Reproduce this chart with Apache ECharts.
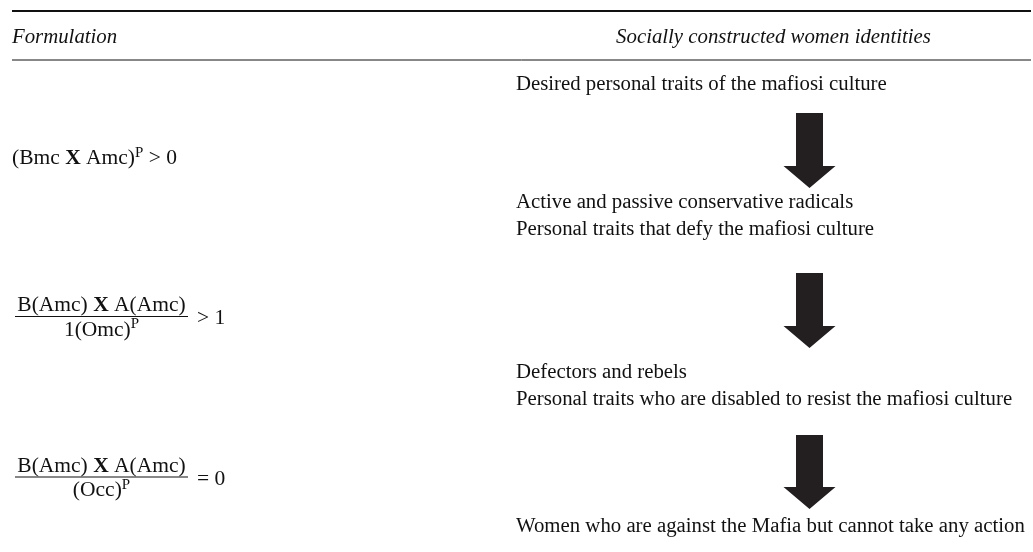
<!DOCTYPE html>
<html>
<head>
<meta charset="UTF-8">
<title>Formulation and socially constructed women identities</title>
<script src="https://cdn.jsdelivr.net/npm/echarts@6/dist/echarts.min.js"></script>
<style>
    html, body { margin: 0; padding: 0; background: #fff; }
    #chart { width: 1033px; height: 552px; }
</style>
</head>
<body>
<div id="chart"></div>
<script>
// table content
const headers = ['Formulation', 'Socially constructed women identities'];
const identities = [
    'Desired personal traits of the mafiosi culture',
    'Active and passive conservative radicals',
    'Personal traits that defy the mafiosi culture',
    'Defectors and rebels',
    'Personal traits who are disabled to resist the mafiosi culture',
    'Women who are against the Mafia but cannot take any action'
];
const identityRows = [84.5, 202.5, 229.5, 372.5, 399.5, 526.5];
// arrows go from the bottom of one identity block to the next
const arrowFrom = [113, 273, 435];
const arrowTo = [188, 348, 509];
// formulas: numerator / denominator / relation ({b|} bold, {sup|} superscript)
const formulaNum = ['(Bmc {b|X} Amc){sup|P}', 'B(Amc) {b|X} A(Amc)', 'B(Amc) {b|X} A(Amc)'];
const formulaDen = ['', '1(Omc){sup|P}', '(Occ){sup|P}'];
const formulaRel = ['> 0', '> 1', '= 0'];
const formulaRows = [158.5, 318.5, 479];

const FONT = '"Liberation Serif", "Times New Roman", serif';
const FS = 20.8;
const FFS = 21.5;
const INK = '#111';
const leftX = 12, rightX = 1031, identX = 516, arrowX = 809.5;
const fracX = 15, fracW = 173, relX = 197;

const rich = {
    b: { fontFamily: FONT, fontSize: FFS, fontWeight: 'bold', fill: INK, lineHeight: 26 },
    sup: { fontFamily: FONT, fontSize: 15, verticalAlign: 'top', lineHeight: 16, fill: INK }
};

function txt(x, y, text, extra) {
    return {
        type: 'text',
        x: x, y: y,
        style: Object.assign({
            text: text,
            fontFamily: FONT,
            fontSize: FS,
            lineHeight: 26,
            fill: INK,
            align: 'left',
            verticalAlign: 'middle',
            rich: rich
        }, extra || {})
    };
}

const chart = echarts.init(document.getElementById('chart'));
chart.setOption({
    animation: false,
    grid: { left: 0, right: 0, top: 0, bottom: 0 },
    xAxis: { type: 'value', min: 0, max: 1033, show: false },
    yAxis: { type: 'value', min: 0, max: 552, inverse: true, show: false },
    series: [
        {
            name: 'rules',
            type: 'custom',
            data: [[11, 2.2], [60, 1]],
            renderItem: function (params, api) {
                const a = api.coord([leftX, api.value(0)]);
                const b = api.coord([rightX, api.value(0)]);
                return {
                    type: 'line',
                    shape: { x1: a[0], y1: a[1], x2: b[0], y2: b[1] },
                    style: { stroke: INK, lineWidth: api.value(1) }
                };
            }
        },
        {
            name: 'headers',
            type: 'custom',
            data: [[leftX, 38], [773.5, 38]],
            renderItem: function (params, api) {
                const p = api.coord([api.value(0), api.value(1)]);
                return txt(p[0], p[1], headers[params.dataIndex], {
                    fontStyle: 'italic',
                    align: params.dataIndex === 0 ? 'left' : 'center'
                });
            }
        },
        {
            name: 'identities',
            type: 'custom',
            data: identityRows.map(function (y) { return [identX, y]; }),
            renderItem: function (params, api) {
                const p = api.coord([api.value(0), api.value(1)]);
                return txt(p[0], p[1], identities[params.dataIndex]);
            }
        },
        {
            name: 'arrows',
            type: 'custom',
            data: arrowFrom.map(function (y, i) { return [arrowX, y, arrowTo[i]]; }),
            renderItem: function (params, api) {
                const top = api.coord([api.value(0), api.value(1)]);
                const tip = api.coord([api.value(0), api.value(2)]);
                const cx = top[0], sw = 13.5, hw = 26, hl = 22;
                const neck = tip[1] - hl;
                return {
                    type: 'polygon',
                    shape: {
                        points: [
                            [cx - sw, top[1]], [cx + sw, top[1]], [cx + sw, neck],
                            [cx + hw, neck], [cx, tip[1]], [cx - hw, neck], [cx - sw, neck]
                        ]
                    },
                    style: { fill: '#231f20' }
                };
            }
        },
        {
            name: 'formulas',
            type: 'custom',
            data: formulaRows.map(function (y) { return [leftX, y]; }),
            renderItem: function (params, api) {
                const i = params.dataIndex;
                const p = api.coord([api.value(0), api.value(1)]);
                if (!formulaDen[i]) {
                    return txt(p[0], p[1], formulaNum[i] + ' ' + formulaRel[i], { fontSize: FFS });
                }
                const line = p[1] - 2, cx = fracX + fracW / 2;
                return {
                    type: 'group',
                    children: [
                        txt(cx, line - 11, formulaNum[i], { align: 'center', fontSize: FFS }),
                        {
                            type: 'line',
                            shape: { x1: fracX, y1: line, x2: fracX + fracW, y2: line },
                            style: { stroke: INK, lineWidth: 1.2 }
                        },
                        txt(cx, line + 13.5, formulaDen[i], { align: 'center', fontSize: FFS }),
                        txt(relX, p[1], formulaRel[i], { fontSize: FFS })
                    ]
                };
            }
        }
    ]
});
</script>
</body>
</html>
